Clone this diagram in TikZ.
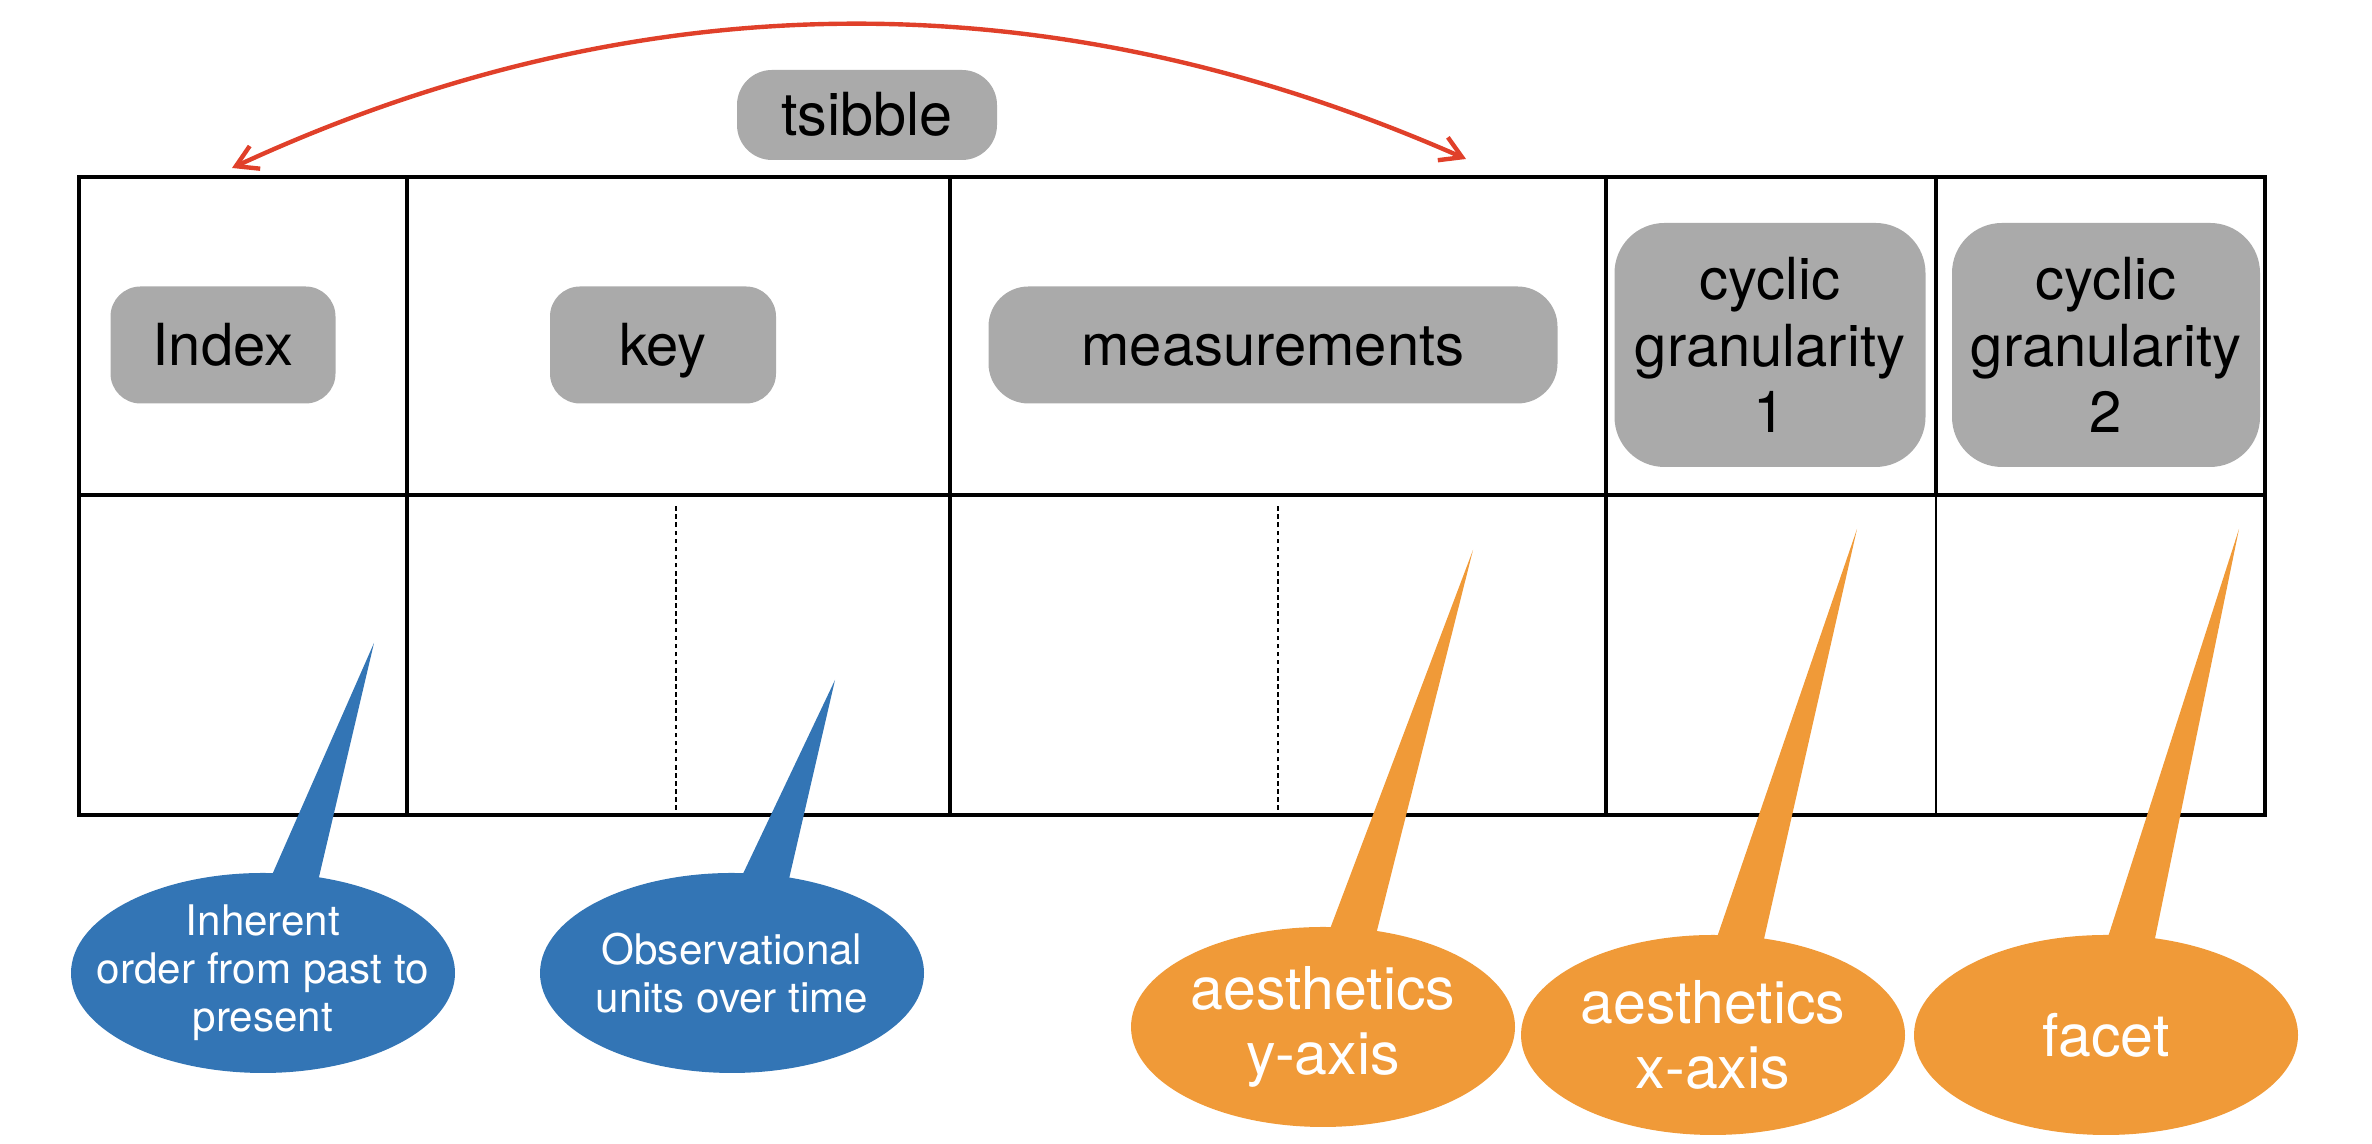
\documentclass[tikz,border=0pt]{standalone}
\usepackage{fontspec}
\setmainfont{TeX Gyre Heros}
\usetikzlibrary{shapes.callouts, arrows.meta}

\definecolor{fieldgray}{HTML}{AAAAAA}
\definecolor{noteblue}{HTML}{3375B5}
\definecolor{noteorange}{HTML}{F09A38}
\definecolor{arcred}{HTML}{E0402A}

\begin{document}
\begin{tikzpicture}[
  x=1cm, y=1cm,
  tabline/.style={draw=black, line width=1.4pt},
  thintab/.style={draw=black, line width=0.55pt},
  divider/.style={draw=black, line width=0.5pt, dash pattern=on 1.3pt off 1pt},
  field/.style={fill=fieldgray, rounded corners=0.3cm, align=center, inner sep=0pt,
    font=\fontsize{16.5}{19}\selectfont, text=black},
  oneline/.style={text height=11.9pt, text depth=0pt},
  note/.style={ellipse callout, callout pointer arc=14, inner xsep=-0.4cm,
    inner ysep=0pt, align=center, minimum width=3.84cm, minimum height=2.00cm,
    text=white},
  pastnote/.style={note, fill=noteblue, font=\fontsize{12}{13.6}\selectfont},
  plotnote/.style={note, fill=noteorange, font=\fontsize{16.8}{18.5}\selectfont},
  link/.style={arcred, line width=1.25pt,
    {Straight Barb[length=2.1mm,width=2.5mm]}-{Straight Barb[length=2.1mm,width=2.5mm]}}
]
  \useasboundingbox (0,0) rectangle (23.72,11.44);

  %% ============================================ the table
  \draw[tabline] (0.79,3.29) rectangle (22.65,9.67);
  \draw[tabline] (0.79,6.49) -- (22.65,6.49);
  \foreach \x in {4.07, 9.50, 16.06}
    \draw[tabline] (\x,3.29) -- (\x,9.67);
  \draw[tabline] (19.36,6.49) -- (19.36,9.67);
  \draw[thintab] (19.36,3.29) -- (19.36,6.49);
  \foreach \x in {6.76, 12.78}
    \draw[divider] (\x,3.34) -- (\x,6.41);

  %% -------------------------------------------- column headers
  \node[field, oneline, minimum width=2.60cm, minimum height=0.90cm,
    rounded corners=0.35cm, font=\fontsize{16.9}{19}\selectfont]
    (tsibble) at (8.67,10.29) {tsibble};
  \node[field, oneline, minimum width=2.25cm, minimum height=1.17cm]
    (index) at (2.23,7.99) {Index};
  \node[field, oneline, minimum width=2.26cm, minimum height=1.17cm]
    (key) at (6.63,7.99) {key};
  \node[field, oneline, minimum width=5.69cm, minimum height=1.17cm,
    rounded corners=0.4cm] (meas) at (12.73,7.99) {measurements};
  \node[field, minimum width=3.11cm, minimum height=2.44cm, rounded corners=0.5cm]
    (gran1) at (17.70,7.99) {cyclic\\granularity\\1};
  \node[field, minimum width=3.08cm, minimum height=2.44cm, rounded corners=0.5cm]
    (gran2) at (21.06,7.99) {cyclic\\granularity\\2};

  %% -------------------------------------------- index to measurements
  \coordinate (indextop) at (2.32,9.76);
  \coordinate (meastop) at (14.66,9.85);
  \draw[link] (indextop) .. controls (6.43,11.66) and (10.55,11.66) .. (meastop);

  %% ============================================ what the columns mean
  \coordinate (ordertip) at (3.74,5.01);
  \coordinate (unittip) at (8.35,4.64);
  \coordinate (ytip) at (14.73,5.94);
  \coordinate (xtip) at (18.57,6.15);
  \coordinate (facettip) at (22.39,6.15);

  \node[pastnote, callout absolute pointer={(ordertip)}] (order) at (2.63,1.71)
    {Inherent\\order from past to\\present};
  \node[pastnote, callout absolute pointer={(unittip)}] (units) at (7.32,1.71)
    {Observational\\units over time};
  \node[plotnote, callout absolute pointer={(ytip)}] (yaes) at (13.23,1.17)
    {aesthetics\\y-axis};
  \node[plotnote, callout absolute pointer={(xtip)}] (xaes) at (17.13,1.09)
    {aesthetics\\x-axis};
  \node[plotnote, callout absolute pointer={(facettip)}] (facet) at (21.06,1.09)
    {facet};

\end{tikzpicture}
\end{document}
